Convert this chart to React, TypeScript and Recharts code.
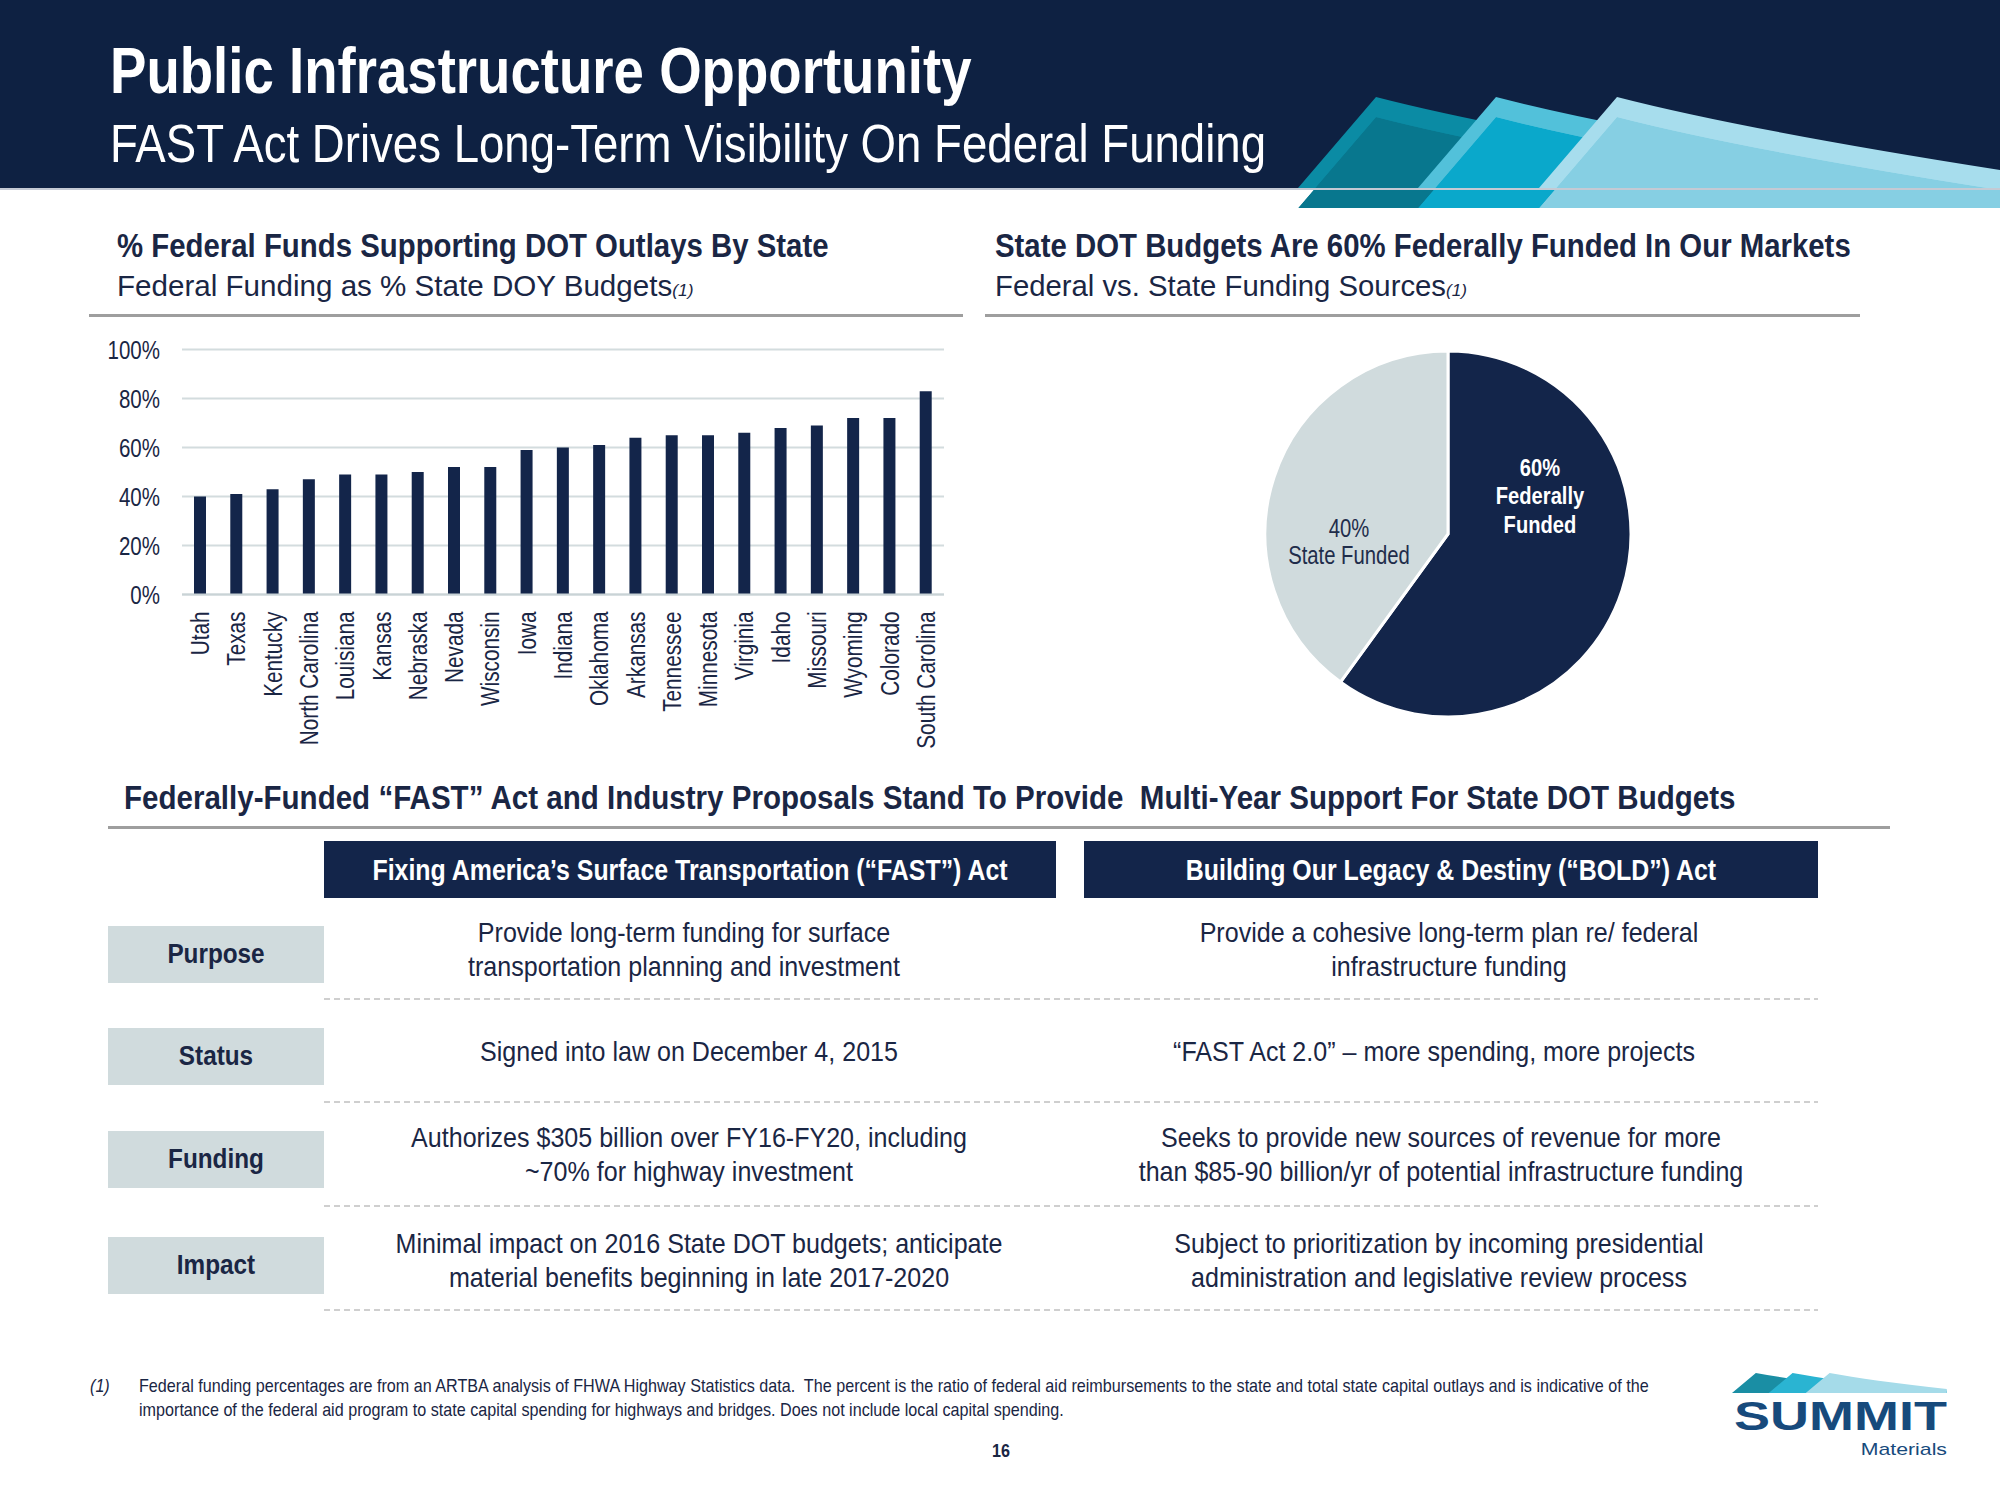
import React from 'react';
import { BarChart, Bar, XAxis, YAxis, CartesianGrid, PieChart, Pie, Cell } from 'recharts';

// bar chart: federal funding as % of state DOT budgets
const states = [
  'Utah', 'Texas', 'Kentucky', 'North Carolina', 'Louisiana', 'Kansas', 'Nebraska',
  'Nevada', 'Wisconsin', 'Iowa', 'Indiana', 'Oklahoma', 'Arkansas', 'Tennessee',
  'Minnesota', 'Virginia', 'Idaho', 'Missouri', 'Wyoming', 'Colorado', 'South Carolina',
];
const federalShare = [40, 41, 43, 47, 49, 49, 50, 52, 52, 59, 60, 61, 64, 65, 65, 66, 68, 69, 72, 72, 83];
const pctTicks = [0, 20, 40, 60, 80, 100];

// pie: federal vs state
const sourceNames = ['Federally Funded', 'State Funded'];
const sourceShares = [60, 40];
const sourceLabels = [['60%', 'Federally', 'Funded'], ['40%', 'State Funded']];

// comparison table
const rowNames = ['Purpose', 'Status', 'Funding', 'Impact'];
const actNames = [
  'Fixing America\u2019s Surface Transportation (\u201cFAST\u201d) Act',
  'Building Our Legacy & Destiny (\u201cBOLD\u201d) Act',
];
const fastRows = [
  ['Provide long-term funding for surface', 'transportation planning and investment'],
  ['Signed into law on December 4, 2015'],
  ['Authorizes $305 billion over FY16-FY20, including', '~70% for highway investment'],
  ['Minimal impact on 2016 State DOT budgets; anticipate', 'material benefits beginning in late 2017-2020'],
];
const boldRows = [
  ['Provide a cohesive long-term plan re/ federal', 'infrastructure funding'],
  ['\u201cFAST Act 2.0\u201d \u2013 more spending, more projects'],
  ['Seeks to provide new sources of revenue for more', 'than $85-90 billion/yr of potential infrastructure funding'],
  ['Subject to prioritization by incoming presidential', 'administration and legislative review process'],
];
const footnote = [
  'Federal funding percentages are from an ARTBA analysis of FHWA Highway Statistics data.  The percent is the ratio of federal aid reimbursements to the state and total state capital outlays and is indicative of the',
  'importance of the federal aid program to state capital spending for highways and bridges. Does not include local capital spending.',
];

const FONT = '"Liberation Sans", Arial, Helvetica, sans-serif';
const INK = '#1a2644';
const NAVY = '#13254a';
const PALE = '#d0dbdd';
const RULE = '#9e9e9e';

type TxtProps = {
  x: number; y: number; size: number; bold?: boolean; italic?: boolean; sx?: number;
  align?: 'left' | 'center' | 'right'; color?: string; children: React.ReactNode;
};

// y is the centre of the capitals
function Txt({ x, y, size, bold, italic, sx = 1, align = 'left', color = INK, children }: TxtProps) {
  const w = 1800;
  const left = align === 'left' ? x : align === 'center' ? x - w / 2 : x - w;
  const origin = align === 'left' ? '0 0' : align === 'center' ? '50% 0' : '100% 0';
  return (
    <div
      style={{
        position: 'absolute', left, top: y - size * 0.488, width: w,
        fontSize: size, lineHeight: `${size}px`, fontWeight: bold ? 700 : 400,
        fontStyle: italic ? 'italic' : 'normal', color, textAlign: align,
        whiteSpace: 'pre', transform: `scaleX(${sx})`, transformOrigin: origin,
      }}
    >
      {children}
    </div>
  );
}

const PctTick = ({ x, y, payload }: any) => (
  <g transform={`translate(${x},${y}) scale(0.82,1)`}>
    <text textAnchor="end" dy="0.36em" fontSize={25} fill={INK} fontFamily={FONT}>
      {payload.value}%
    </text>
  </g>
);

const StateTick = ({ x, y, payload }: any) => (
  <g transform={`translate(${x},${y}) rotate(-90) scale(0.83,1)`}>
    <text textAnchor="end" dy="0.36em" fontSize={25} fill={INK} fontFamily={FONT}>
      {payload.value}
    </text>
  </g>
);

const pieLabel = (props: any) => {
  const cx = props.cx ?? 200;
  const cy = props.cy ?? 200;
  const idx = props.index;
  const lines = sourceLabels[idx];
  const fed = idx === 0;
  const dx = fed ? 92 : -99;
  const dys = fed ? [-67, -39, -10] : [-6, 21];
  return (
    <g>
      {lines.map((t, i) => (
        <g key={i} transform={`translate(${cx + dx},${cy + dys[i]}) scale(${fed ? 0.84 : 0.78},1)`}>
          <text
            textAnchor="middle" dy="0.36em" fontFamily={FONT}
            fontSize={fed ? 24 : 26} fontWeight={fed ? 700 : 400} fill={fed ? '#ffffff' : '#1f2d4b'}
          >
            {t}
          </text>
        </g>
      ))}
    </g>
  );
};

const fin = (dx: number) =>
  `M${1617 - dx},97 Q${1745 - dx},130 ${2000 - dx},170 L2000,178 L2000,188 L${1539 - dx},188 Z`;

function Fins() {
  const fins = [
    { dx: 241, top: '#0b8ba4', low: '#08778e' },
    { dx: 121, top: '#52c1da', low: '#0aa8cb' },
    { dx: 0, top: '#a7dded', low: '#86cfe3' },
  ];
  return (
    <g>
      <defs>
        {fins.map((f) => (
          <clipPath key={f.dx} id={`fin${f.dx}`}>
            <path d={fin(f.dx)} />
          </clipPath>
        ))}
      </defs>
      {fins.map((f) => (
        <g key={f.dx}>
          <path d={fin(f.dx)} fill={f.top} />
          <path d={fin(f.dx)} fill={f.low} transform="translate(0,20)" clipPath={`url(#fin${f.dx})`} />
        </g>
      ))}
    </g>
  );
}

export default function App() {
  const barData = states.map((s, i) => ({ state: s, share: federalShare[i] }));
  const pieData = sourceNames.map((n, i) => ({ name: n, value: sourceShares[i] }));
  const rowCentres = [954, 1056, 1159, 1265];
  const dashes = [999, 1102, 1206, 1310];
  const boxCentres = [690, 1451];
  const textCentres = [[684, 1449], [689, 1434], [689, 1441], [699, 1439]];

  return (
    <div
      style={{
        position: 'absolute', left: 0, top: 0, width: 2000, height: 1500,
        background: '#ffffff', overflow: 'hidden', fontFamily: FONT,
      }}
    >
      {/* header band */}
      <div style={{ position: 'absolute', left: 0, top: 0, width: 2000, height: 188, background: '#0e2142' }} />
      <svg width={2000} height={1500} style={{ position: 'absolute', left: 0, top: 0 }}>
        <Fins />
        <rect x={0} y={188} width={2000} height={2} fill="#c4cad4" />
        {dashes.map((y) => (
          <line key={y} x1={324} x2={1818} y1={y} y2={y} stroke="#a0a0a0" strokeWidth={1.2} strokeDasharray="6 4" />
        ))}
        <g transform="translate(1334.8,1351.7) scale(0.306,0.22)">
          <path d={fin(241)} fill="#1a8ea4" />
          <path d={fin(121)} fill="#2ab4d2" />
          <path d={fin(0)} fill="#a5dbe9" />
        </g>
      </svg>
      <Txt x={110} y={70} size={65} bold sx={0.84} color="#ffffff">Public Infrastructure Opportunity</Txt>
      <Txt x={110} y={143} size={53} sx={0.86} color="#ffffff">FAST Act Drives Long-Term Visibility On Federal Funding</Txt>

      {/* panel headings */}
      <Txt x={117} y={245} size={33} bold sx={0.89}>% Federal Funds Supporting DOT Outlays By State</Txt>
      <Txt x={117} y={286} size={29} sx={1.02}>
        Federal Funding as % State DOY Budgets<span style={{ fontSize: 17, fontStyle: 'italic' }}>(1)</span>
      </Txt>
      <div style={{ position: 'absolute', left: 89, top: 314, width: 874, height: 3, background: RULE }} />
      <Txt x={995} y={245} size={33} bold sx={0.89}>State DOT Budgets Are 60% Federally Funded In Our Markets</Txt>
      <Txt x={995} y={286} size={29} sx={1.01}>
        Federal vs. State Funding Sources<span style={{ fontSize: 17, fontStyle: 'italic' }}>(1)</span>
      </Txt>
      <div style={{ position: 'absolute', left: 985, top: 314, width: 875, height: 3, background: RULE }} />

      {/* bar chart */}
      <div style={{ position: 'absolute', left: 100, top: 330 }}>
        <BarChart width={870} height={440} data={barData} margin={{ top: 19.5, right: 26, bottom: 0, left: 0 }}>
          <CartesianGrid vertical={false} stroke="#d3dcde" strokeWidth={2} />
          <YAxis
            domain={[0, 100]} ticks={pctTicks} width={82} axisLine={false} tickLine={false}
            tickMargin={16} tick={<PctTick />}
          />
          <XAxis
            dataKey="state" interval={0} height={175.5} tickLine={false} tickMargin={11}
            axisLine={{ stroke: '#c9d3d6', strokeWidth: 2 }} tick={<StateTick />}
          />
          <Bar dataKey="share" fill={NAVY} barSize={12} isAnimationActive={false} />
        </BarChart>
      </div>

      {/* pie chart */}
      <div style={{ position: 'absolute', left: 1243, top: 329 }}>
        <PieChart width={400} height={400}>
          <Pie
            data={pieData} dataKey="value" cx={200} cy={200} outerRadius={183}
            startAngle={90} endAngle={-270} stroke="#ffffff" strokeWidth={3}
            label={pieLabel} labelLine={false} isAnimationActive={false}
          >
            <Cell fill={NAVY} />
            <Cell fill={PALE} />
          </Pie>
        </PieChart>
      </div>

      {/* lower section */}
      <Txt x={124} y={797} size={33} bold sx={0.895}>
        Federally-Funded {'\u201c'}FAST{'\u201d'} Act and Industry Proposals Stand To Provide  Multi-Year Support For State DOT Budgets
      </Txt>
      <div style={{ position: 'absolute', left: 108, top: 826, width: 1782, height: 3, background: RULE }} />

      {actNames.map((a, i) => (
        <React.Fragment key={a}>
          <div
            style={{
              position: 'absolute', left: i === 0 ? 324 : 1084, top: 841,
              width: i === 0 ? 732 : 734, height: 57, background: NAVY,
            }}
          />
          <Txt x={boxCentres[i]} y={870} size={30} bold sx={0.83} align="center" color="#ffffff">{a}</Txt>
        </React.Fragment>
      ))}

      {rowNames.map((r, i) => {
        const rc = rowCentres[i];
        return (
          <React.Fragment key={r}>
            <div style={{ position: 'absolute', left: 108, top: rc - 28.5, width: 216, height: 57, background: PALE }} />
            <Txt x={216} y={rc} size={27} bold sx={0.9} align="center">{r}</Txt>
            {[fastRows[i], boldRows[i]].map((lines, c) =>
              lines.map((t, k) => (
                <Txt
                  key={`${c}-${k}`} x={textCentres[i][c]} size={28} sx={0.895} align="center"
                  y={lines.length === 1 ? rc - 4 : rc - 21 + k * 34}
                >
                  {t}
                </Txt>
              ))
            )}
          </React.Fragment>
        );
      })}

      {/* footnote + page furniture */}
      <Txt x={90} y={1385} size={19} italic sx={0.85}>(1)</Txt>
      {footnote.map((t, i) => (
        <Txt key={i} x={139} y={1385 + i * 24} size={19} sx={0.85}>{t}</Txt>
      ))}
      <Txt x={1001} y={1450} size={19} bold sx={0.85} align="center">16</Txt>
      <Txt x={1947} y={1416} size={40} bold sx={1.35} align="right" color="#174a7c">SUMMIT</Txt>
      <Txt x={1947} y={1449} size={17} sx={1.25} align="right" color="#174a7c">Materials</Txt>
    </div>
  );
}
